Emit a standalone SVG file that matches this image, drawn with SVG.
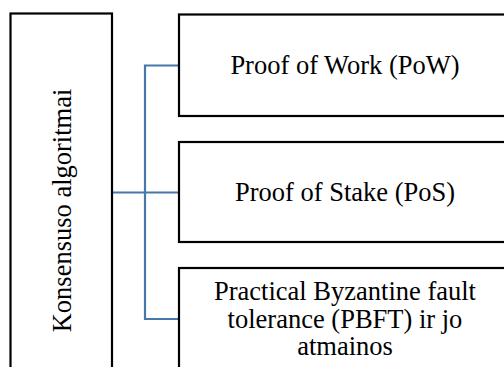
<svg xmlns="http://www.w3.org/2000/svg" width="504" height="367" viewBox="0 0 504 367">
  <style>
    .box { fill: #ffffff; stroke: #000000; stroke-width: 2.2; }
    .lbl { fill: #000000; text-anchor: middle; }
    .link { fill: none; stroke: #4679ab; stroke-width: 2.2; }
  </style>
  <rect width="504" height="367" fill="#ffffff"/>

  <!-- connectors -->
  <g id="connectors">
    <path class="link" d="M112,192.5 H179"/>
    <path class="link" d="M179,65.5 H145 V319 H179"/>
  </g>

  <g font-family="'Liberation Serif', serif" font-size="26.5">
    <!-- root node -->
    <g id="root">
      <rect class="box" x="10.5" y="13.5" width="101.5" height="420"/>
      <text class="lbl" transform="translate(70.5,210.5) rotate(-90)" x="0" y="0">Konsensuso algoritmai</text>
    </g>

    <!-- child nodes -->
    <g id="pow">
      <rect class="box" x="179" y="14.5" width="335" height="101.5"/>
      <text class="lbl" x="345" y="73.5">Proof of Work (PoW)</text>
    </g>
    <g id="pos">
      <rect class="box" x="179" y="142" width="335" height="100"/>
      <text class="lbl" x="345" y="201">Proof of Stake (PoS)</text>
    </g>
    <g id="pbft">
      <rect class="box" x="179" y="268" width="335" height="120"/>
      <text class="lbl" x="345" y="300">Practical Byzantine fault</text>
      <text class="lbl" x="345" y="327.5">tolerance (PBFT) ir jo</text>
      <text class="lbl" x="345" y="355">atmainos</text>
    </g>
  </g>
</svg>
